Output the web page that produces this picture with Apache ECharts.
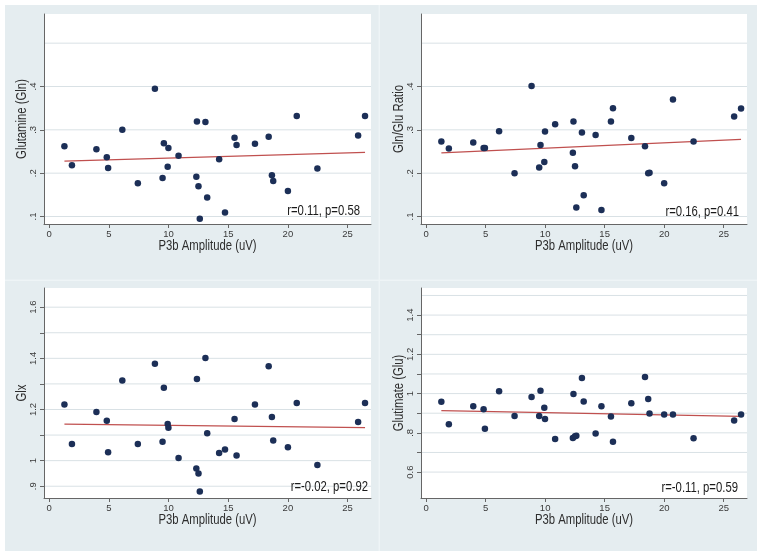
<!DOCTYPE html>
<html>
<head>
<meta charset="utf-8">
<script src="https://cdn.jsdelivr.net/npm/echarts@6/dist/echarts.min.js"></script>
<style>
  html, body { margin: 0; padding: 0; background: #ffffff; }
  #chart { position: absolute; left: 5px; top: 5px; width: 752px; height: 546px; }
</style>
</head>
<body>
<div id="chart"></div>
<script>
// ---------------- data ----------------
const xAmplitude = [1.28, 1.91, 3.96, 4.83, 4.94, 6.13, 7.43, 8.86, 9.50, 9.61, 9.93, 9.99, 10.84, 12.33, 12.38, 12.51,
                    12.62, 13.09, 13.24, 14.24, 14.73, 15.53, 15.70, 17.24, 18.39, 18.66, 18.77, 20.00, 20.74, 22.47, 25.88, 26.46];
const glnValues   = [0.262, 0.218, 0.255, 0.237, 0.212, 0.300, 0.177, 0.395, 0.189, 0.269, 0.215, 0.258, 0.240, 0.192, 0.319, 0.170,
                    0.095, 0.318, 0.144, 0.232, 0.109, 0.282, 0.265, 0.268, 0.284, 0.195, 0.182, 0.159, 0.332, 0.211, 0.287, 0.332];
const ratioValues = [0.273, 0.257, 0.271, 0.258, 0.258, 0.297, 0.200, 0.401, 0.213, 0.265, 0.226, 0.296, 0.313, 0.247, 0.319, 0.216,
                    0.121, 0.294, 0.149, 0.288, 0.115, 0.319, 0.350, 0.281, 0.262, 0.200, 0.201, 0.177, 0.370, 0.273, 0.331, 0.349];
const glxValues   = [1.220, 1.065, 1.190, 1.156, 1.033, 1.313, 1.065, 1.379, 1.074, 1.285, 1.143, 1.129, 1.010, 0.969, 1.319, 0.950,
                    0.879, 1.401, 1.107, 1.030, 1.044, 1.163, 1.020, 1.220, 1.369, 1.171, 1.079, 1.052, 1.225, 0.983, 1.151, 1.225];
const gluValues   = [0.958, 0.844, 0.936, 0.920, 0.821, 1.012, 0.886, 0.983, 0.886, 1.015, 0.928, 0.871, 0.769, 0.774, 0.998, 0.782,
                    0.785, 1.080, 0.960, 0.797, 0.935, 0.883, 0.754, 0.951, 1.084, 0.973, 0.898, 0.893, 0.893, 0.772, 0.863, 0.893];

// fitted regression lines (end points)
const fitX     = [1.28, 26.46];
const fitGln   = [0.228, 0.248];
const fitRatio = [0.247, 0.278];
const fitGlx   = [1.143, 1.129];
const fitGlu   = [0.913, 0.884];

// tick labels
const xTicks = [0, 5, 10, 15, 20, 25];
const xTickLabels = ['0', '5', '10', '15', '20', '25'];
const glnTickVals = [0.1, 0.2, 0.3, 0.4];
const glnTickLabels = ['.1', '.2', '.3', '.4'];
const glnGridVals = [0.1, 0.2, 0.3, 0.4, 0.5];
const glxTickVals = [0.9, 1.0, 1.1, 1.2, 1.3, 1.4, 1.5, 1.6];
const glxLabelVals = [0.9, 1.0, 1.2, 1.4, 1.6];
const glxTickLabels = ['.9', '1', '1.2', '1.4', '1.6'];
const glxGridVals = [0.9, 1.0, 1.1, 1.2, 1.3, 1.4, 1.5, 1.6];
const gluTickVals = [0.6, 0.7, 0.8, 0.9, 1.0, 1.1, 1.2, 1.3, 1.4];
const gluLabelVals = [0.6, 0.8, 1.0, 1.2, 1.4];
const gluTickLabels = ['0.6', '.8', '1', '1.2', '1.4'];
const gluGridVals = [0.6, 0.7, 0.8, 0.9, 1.0, 1.1, 1.2, 1.3, 1.4, 1.5];

const xTitle = 'P3b Amplitude (uV)';
const yTitles = ['Glutamine (Gln)', 'Gln/Glu Ratio', 'Glx', 'Glutimate (Glu)'];
const statTexts = ['r=0.11, p=0.58', 'r=0.16, p=0.41', 'r=-0.02, p=0.92', 'r=-0.11, p=0.59'];

// ---------------- layout / style ----------------
const FONT = 'Liberation Sans, Arial, Helvetica, sans-serif';
const TITLE_SIZE = 13.8;     // narrow-looking text: regular font squeezed along its reading direction
const SQUEEZE = 0.82;
const AXIS_COLOR = '#666';
const X_MIN = -0.43, X_MAX = 26.96;
const panels = [
  { grid: { left: 39,  top: 9,   width: 327, height: 210 }, y: glnValues,   fit: fitGln,   yMin: 0.0827, yMax: 0.5673,
    tickVals: glnTickVals, labelVals: glnTickVals, labels: glnTickLabels, gridVals: glnGridVals, stat: [355, 206] },
  { grid: { left: 416, top: 9,   width: 326, height: 210 }, y: ratioValues, fit: fitRatio, yMin: 0.0827, yMax: 0.5673,
    tickVals: glnTickVals, labelVals: glnTickVals, labels: glnTickLabels, gridVals: glnGridVals, stat: [734, 207] },
  { grid: { left: 39,  top: 283, width: 327, height: 210 }, y: glxValues,   fit: fitGlx,   yMin: 0.854, yMax: 1.675,
    tickVals: glxTickVals, labelVals: glxLabelVals, labels: glxTickLabels, gridVals: glxGridVals, stat: [363, 482] },
  { grid: { left: 416, top: 283, width: 326, height: 210 }, y: gluValues,   fit: fitGlu,   yMin: 0.468, yMax: 1.538,
    tickVals: gluTickVals, labelVals: gluLabelVals, labels: gluTickLabels, gridVals: gluGridVals, stat: [733, 483] }
];

const grids = [], xAxes = [], yAxes = [], series = [];
panels.forEach((p, i) => {
  grids.push(Object.assign({ show: true, backgroundColor: '#ffffff', borderWidth: 0, z: 0 }, p.grid));
  xAxes.push({
    type: 'value', gridIndex: i, min: X_MIN, max: X_MAX, z: 6,
    axisLine: { show: true, onZero: false, lineStyle: { color: AXIS_COLOR, width: 1 } },
    axisTick: { show: true, length: 4, customValues: xTicks, lineStyle: { color: AXIS_COLOR } },
    axisLabel: { customValues: xTicks, margin: 5, fontSize: 9.5, color: '#3a3a3a', fontFamily: FONT,
                 formatter: v => xTickLabels[xTicks.indexOf(v)] },
    splitLine: { show: false }
  });
  yAxes.push({
    type: 'value', gridIndex: i, min: p.yMin, max: p.yMax, z: 6,
    axisLine: { show: true, onZero: false, lineStyle: { color: AXIS_COLOR, width: 1 } },
    axisTick: { show: true, length: 4, customValues: p.tickVals, lineStyle: { color: AXIS_COLOR } },
    axisLabel: { customValues: p.labelVals, rotate: 90, margin: 6, fontSize: 9.5, color: '#3a3a3a', fontFamily: FONT,
                 formatter: v => p.labels[p.labelVals.findIndex(t => Math.abs(t - v) < 1e-9)] },
    splitLine: { show: false }
  });
  // horizontal grid lines, one thin line series per grid value, spanning the x range
  p.gridVals.forEach(v => {
    series.push({
      type: 'line', xAxisIndex: i, yAxisIndex: i, z: 3, zlevel: 0, silent: true, animation: false,
      clip: false, data: [[X_MIN, v], [X_MAX, v]], symbol: 'none',
      lineStyle: { color: '#d9e1e5', width: 1, opacity: 1 }
    });
  });
  series.push({
    type: 'line', xAxisIndex: i, yAxisIndex: i, z: 4, silent: true, animation: false,
    data: fitX.map((x, k) => [x, p.fit[k]]),
    symbol: 'none', lineStyle: { color: '#c0504f', width: 1.2 }
  });
  series.push({
    type: 'scatter', xAxisIndex: i, yAxisIndex: i, z: 5, animation: false,
    data: xAmplitude.map((x, k) => [x, p.y[k]]),
    symbol: 'circle', symbolSize: 6.5, itemStyle: { color: '#1c2f57', opacity: 1 }
  });
});

const graphics = [
  { type: 'rect', silent: true, z: -10, shape: { x: 0, y: 274.5, width: 752, height: 1.5 }, style: { fill: '#eef4f6' } },
  { type: 'rect', silent: true, z: -10, shape: { x: 373.5, y: 0, width: 1.5, height: 546 }, style: { fill: '#eef4f6' } }
];
panels.forEach((p, i) => {
  const g = p.grid;
  graphics.push({
    type: 'text', silent: true, z: 10,
    x: g.left + g.width / 2, y: g.top + g.height + 22.5, scaleX: SQUEEZE,
    style: { text: xTitle, align: 'center', verticalAlign: 'middle', fontSize: TITLE_SIZE, fontFamily: FONT, fill: '#2e2e2e' }
  });
  graphics.push({
    type: 'text', silent: true, z: 10,
    x: g.left - 22, y: g.top + g.height / 2, rotation: Math.PI / 2, scaleX: SQUEEZE,
    style: { text: yTitles[i], align: 'center', verticalAlign: 'middle', fontSize: TITLE_SIZE, fontFamily: FONT, fill: '#2e2e2e' }
  });
  graphics.push({
    type: 'text', silent: true, z: 10, x: p.stat[0], y: p.stat[1], scaleX: SQUEEZE,
    style: { text: statTexts[i], align: 'right', verticalAlign: 'middle', fontSize: TITLE_SIZE, fontFamily: FONT, fill: '#1a1a1a' }
  });
});

const chart = echarts.init(document.getElementById('chart'), null, { renderer: 'canvas' });
chart.setOption({
  animation: false,
  backgroundColor: '#e5edf0',
  grid: grids,
  xAxis: xAxes,
  yAxis: yAxes,
  series: series,
  graphic: graphics
});
</script>
</body>
</html>
